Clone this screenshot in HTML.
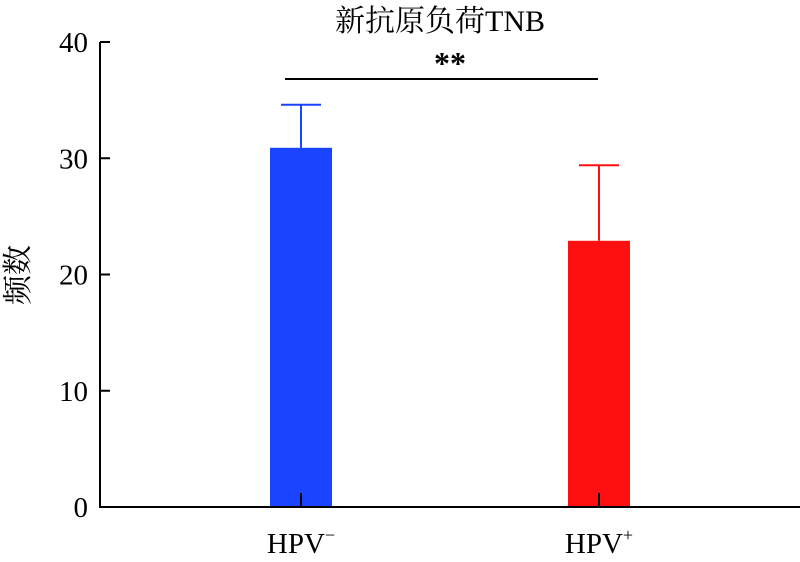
<!DOCTYPE html>
<html><head><meta charset="utf-8"><style>
body{margin:0;background:#fff}
svg text{font-family:"Liberation Serif","Noto Serif CJK SC",serif;fill:#000}
</style></head><body>
<svg width="800" height="557" viewBox="0 0 800 557">
<text x="440" y="31" font-size="30" text-anchor="middle">新抗原负荷TNB</text>
<text x="28" y="275" font-size="30" text-anchor="middle" transform="rotate(-90 28 275)">频数</text>
<g id="yticks"></g>
<g id="bars"></g>
<line x1="100" y1="42" x2="100" y2="507" stroke="#000" stroke-width="2"/>
<line x1="99" y1="507" x2="800" y2="507" stroke="#000" stroke-width="2"/>
<line x1="285" y1="79" x2="598" y2="79" stroke="#000" stroke-width="2"/>
<text x="450" y="74" font-size="32" font-weight="bold" text-anchor="middle">**</text>
</svg>
<script>
const categories=["HPV−","HPV+"];
const values=[30.9,22.9];
const errors=[3.7,6.5];
const colors=["#1a44ff","#ff1010"];
const yTicks=[0,10,20,30,40];
const ns="http://www.w3.org/2000/svg";
function y(v){return 507-v*(465/40);}
const centers=[301,599];
function mk(t,a,p){const e=document.createElementNS(ns,t);for(const k in a)e.setAttribute(k,a[k]);p.appendChild(e);return e;}
const yt=document.getElementById('yticks'),bg=document.getElementById('bars');
yTicks.forEach(v=>{
 const l=mk('line',{x1:100,x2:110,y1:y(v),y2:y(v),stroke:'#000','stroke-width':2},yt);
 
 
 const t=mk('text',{x:88,y:y(v)+10,'font-size':29,'text-anchor':'end'},yt);
 t.textContent=v;
 
 
});
categories.forEach((c,i)=>{
 const cx=centers[i];
 const b=mk('rect',{x:cx-31,y:y(values[i]),width:62,height:507-y(values[i]),fill:colors[i]},bg);
 
 
 const e=mk('line',{x1:cx,x2:cx,y1:y(values[i]),y2:y(values[i]+errors[i]),stroke:colors[i],'stroke-width':2},bg);
 
 
 const cap=mk('line',{x1:cx-20,x2:cx+20,y1:y(values[i]+errors[i]),y2:y(values[i]+errors[i]),stroke:colors[i],'stroke-width':2},bg);
 
 
 const tk=mk('line',{x1:cx,x2:cx,y1:507,y2:493,stroke:'#000','stroke-width':2},bg);
 
 
 const t=mk('text',{x:cx,y:553,'font-size':29,'text-anchor':'middle'},bg);
 t.textContent='HPV';
 const s=mk('tspan',{dy:-12,'font-size':18},t);
 s.textContent=c.slice(3);
 
 
});
</script>
</body></html>
